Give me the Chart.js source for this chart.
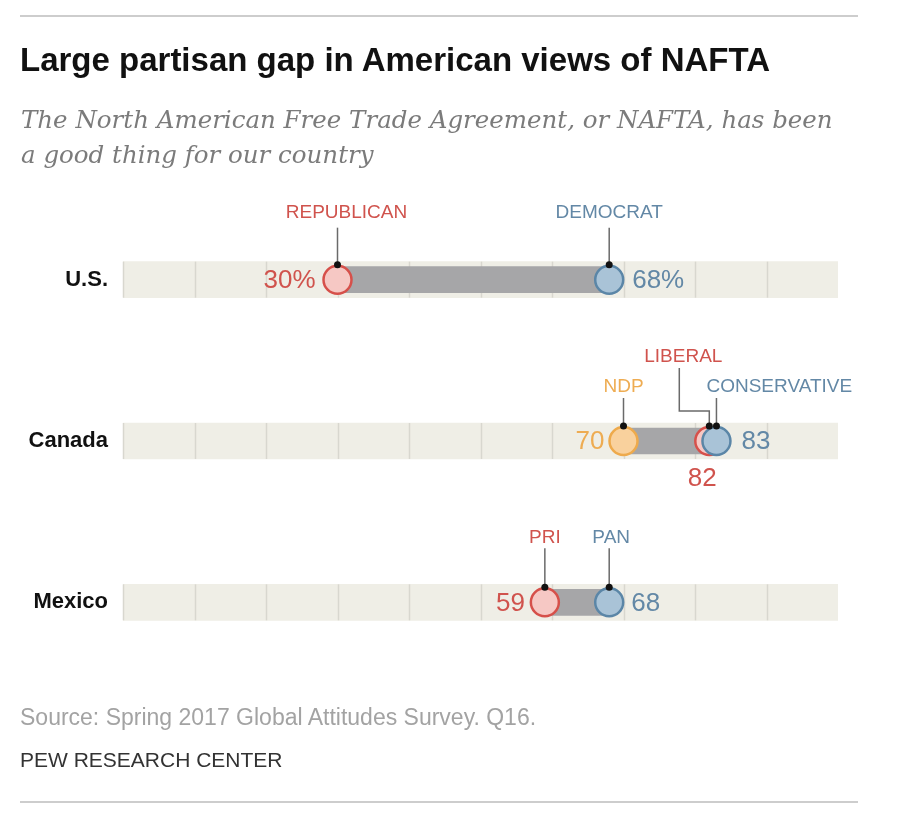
<!DOCTYPE html>
<html>
<head>
<meta charset="utf-8">
<script src="https://cdn.jsdelivr.net/npm/chart.js@4"></script>
<style>
html,body{margin:0;padding:0;background:#fff;}
#wrap{position:relative;width:898px;height:814px;overflow:hidden;background:#fff;}
#c{position:absolute;left:0;top:0;}
.t{position:absolute;white-space:nowrap;margin:0;}
.rule{position:absolute;left:20px;width:838px;height:2px;background:#cdcdcd;}
</style>
</head>
<body>
<div id="wrap">
  <canvas id="c" width="898" height="814"></canvas>
  <div class="rule" style="top:15px"></div>
  <div class="t" style="left:20px;top:43px;font:bold 33px/33px 'Liberation Sans',Arial,sans-serif;color:#111;">Large partisan gap in American views of NAFTA</div>
  <div class="t" style="left:21px;top:102px;font:italic 24.5px/35px 'DejaVu Serif',serif;color:#7b7b7b;">The North American Free Trade Agreement, or NAFTA, has been<br>a good thing for our country</div>
  <div class="t" style="left:20px;top:706px;font:23px/22px 'Liberation Sans',Arial,sans-serif;color:#a3a3a3;">Source: Spring 2017 Global Attitudes Survey. Q16.</div>
  <div class="t" style="left:20px;top:749px;font:21px/21px 'Liberation Sans',Arial,sans-serif;color:#333;">PEW RESEARCH CENTER</div>
  <div class="rule" style="top:801px"></div>
</div>
<script>
// ---- data ----
const countries = ['U.S.', 'Canada', 'Mexico'];
const usParties = ['REPUBLICAN', 'DEMOCRAT'];
const usValues = [30, 68];
const canadaParties = ['NDP', 'LIBERAL', 'CONSERVATIVE'];
const canadaValues = [70, 82, 83];
const mexicoParties = ['PRI', 'PAN'];
const mexicoValues = [59, 68];
const gridTicks = [0, 10, 20, 30, 40, 50, 60, 70, 80, 90];
const axisMin = 0, axisMax = 100;

// ---- styling ----
const palette = {
  red:    {fill: '#f6c8c4', stroke: '#d6504a', text: '#d0534d'},
  blue:   {fill: '#a9c3d7', stroke: '#5b86a7', text: '#6388a6'},
  orange: {fill: '#f9d19d', stroke: '#eeaa4c', text: '#eeac52'}
};
const partyColor = {REPUBLICAN:'red', DEMOCRAT:'blue', NDP:'orange', LIBERAL:'red', CONSERVATIVE:'blue', PRI:'red', PAN:'blue'};
// annotation layout, relative to each dot (pixels)
const annot = {
  REPUBLICAN:   {dx: 9,   ly: -67, lt: -52, val: 'left',  vo: 22},
  DEMOCRAT:     {dx: 0,   ly: -67, lt: -52, val: 'right', vo: 23},
  NDP:          {dx: 0,   ly: -54, lt: -43, val: 'left',  vo: 19},
  LIBERAL:      {dx: -26, ly: -84, lt: -73, val: 'below', vo: 38, elbow: {dx: -30, y: -30}},
  CONSERVATIVE: {dx: -10, ly: -54, lt: -43, val: 'right', vo: 25, align: 'left'},
  PRI:          {dx: 0,   ly: -65, lt: -54, val: 'left',  vo: 20},
  PAN:          {dx: 2,   ly: -65, lt: -54, val: 'right', vo: 22}
};
const rows = [
  {country: countries[0], parties: usParties, values: usValues, suffix: '%'},
  {country: countries[1], parties: canadaParties, values: canadaValues, suffix: ''},
  {country: countries[2], parties: mexicoParties, values: mexicoValues, suffix: ''}
];
const bandH = 36, gapH = 26, dotR = 14;
const sansFont = "'Liberation Sans', Arial, sans-serif";

const datasets = [
  {
    type: 'bar', label: 'band', indexAxis: 'y', grouped: false, order: 3,
    data: countries.map(() => [axisMin, axisMax]),
    backgroundColor: '#efeee6', borderWidth: 0, borderSkipped: false, barThickness: bandH
  },
  {
    type: 'bar', label: 'gap', indexAxis: 'y', grouped: false, order: 2,
    data: rows.map(r => [Math.min(...r.values), Math.max(...r.values)]),
    backgroundColor: '#a6a6a8', borderWidth: 0, borderSkipped: false, barThickness: gapH
  }
].concat(rows.map(r => ({
  type: 'scatter', label: r.country, order: 1,
  data: r.values.map(v => ({x: v, y: r.country})),
  pointRadius: dotR, pointHoverRadius: dotR, pointBorderWidth: 2.5,
  pointBackgroundColor: r.parties.map(p => palette[partyColor[p]].fill),
  pointBorderColor: r.parties.map(p => palette[partyColor[p]].stroke)
})));

const annotPlugin = {
  id: 'annot',
  afterDatasetDraw(chart, args) {
    if (args.index !== 0) return;
    const {ctx, scales: {x, y}} = chart;
    ctx.save();
    ctx.strokeStyle = '#d8d7cf';
    ctx.lineWidth = 1.5;
    countries.forEach((c, i) => {
      const cy = y.getPixelForValue(i);
      gridTicks.forEach(t => {
        const px = Math.round(x.getPixelForValue(t)) + 0.5;
        ctx.beginPath();
        ctx.moveTo(px, cy - bandH / 2);
        ctx.lineTo(px, cy + bandH / 2);
        ctx.stroke();
      });
    });
    ctx.restore();
  },
  afterDatasetsDraw(chart) {
    const ctx = chart.ctx;
    ctx.save();
    rows.forEach((r, ri) => {
      const meta = chart.getDatasetMeta(2 + ri);
      r.parties.forEach((p, j) => {
        const el = meta.data[j];
        const px = el.x, py = el.y;
        const a = annot[p];
        const col = palette[partyColor[p]];
        const topY = py - dotR - 1;
        // leader line
        ctx.strokeStyle = '#6a6a6a';
        ctx.lineWidth = 1.5;
        ctx.beginPath();
        if (a.elbow) {
          ctx.moveTo(px + a.elbow.dx, py + a.lt);
          ctx.lineTo(px + a.elbow.dx, py + a.elbow.y);
          ctx.lineTo(px, py + a.elbow.y);
          ctx.lineTo(px, topY);
        } else {
          ctx.moveTo(px, py + a.lt);
          ctx.lineTo(px, topY);
        }
        ctx.stroke();
        ctx.fillStyle = '#111';
        ctx.beginPath();
        ctx.arc(px, topY, 3.5, 0, Math.PI * 2);
        ctx.fill();
        // party label
        ctx.fillStyle = col.text;
        ctx.font = '19px ' + sansFont;
        ctx.textBaseline = 'middle';
        ctx.textAlign = a.align || 'center';
        ctx.fillText(p, px + a.dx, py + a.ly);
        // value label
        ctx.font = '26px ' + sansFont;
        const txt = r.values[j] + r.suffix;
        if (a.val === 'left') {
          ctx.textAlign = 'right';
          ctx.fillText(txt, px - a.vo, py + 1);
        } else if (a.val === 'right') {
          ctx.textAlign = 'left';
          ctx.fillText(txt, px + a.vo, py + 1);
        } else {
          ctx.textAlign = 'center';
          ctx.fillText(txt, px - 7, py + a.vo);
        }
      });
    });
    ctx.restore();
  }
};

new Chart(document.getElementById('c'), {
  type: 'bar',
  data: {labels: countries, datasets},
  options: {
    responsive: false,
    animation: false,
    devicePixelRatio: 1,
    layout: {padding: {left: 20, right: 60, top: 199, bottom: 131}},
    plugins: {legend: {display: false}, tooltip: {enabled: false}, title: {display: false}},
    events: [],
    scales: {
      x: {type: 'linear', min: axisMin, max: axisMax, offset: false, grace: 0, display: false},
      y: {
        type: 'category', labels: countries, offset: true,
        grid: {display: false, drawTicks: false},
        border: {display: false},
        ticks: {font: {family: sansFont, size: 22, weight: 'bold'}, color: '#111', padding: 15},
        afterFit: s => { s.width = 103; }
      }
    }
  },
  plugins: [annotPlugin]
});
</script>
</body>
</html>
